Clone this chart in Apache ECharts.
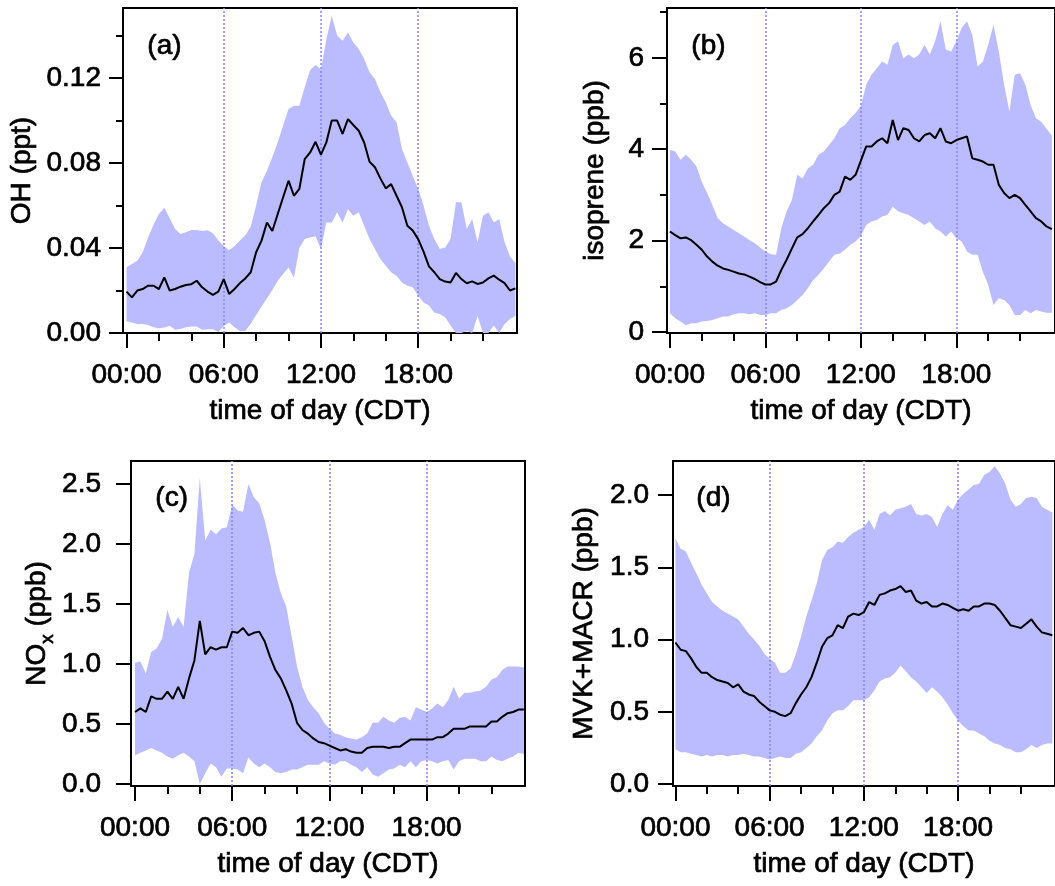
<!DOCTYPE html>
<html><head><meta charset="utf-8">
<script src="https://cdn.jsdelivr.net/npm/echarts@6/dist/echarts.min.js"></script>
<style>html,body{margin:0;padding:0;background:#fff}#c{width:1055px;height:886px}</style>
</head><body><div id="c"></div>
<script>
// ---- time of day (minutes after midnight) ----
const timeMin = [0,20,40,60,80,100,120,140,160,180,200,220,240,260,280,300,320,340,360,380,400,420,440,460,480,500,520,540,560,580,600,620,640,660,680,700,720,740,760,780,800,820,840,860,880,900,920,940,960,980,1000,1020,1040,1060,1080,1100,1120,1140,1160,1180,1200,1220,1240,1260,1280,1300,1320,1340,1360,1380,1400,1420,1440];

// ---- (a) OH (ppt) ----
const ohMean = [0.0195,0.0168,0.0200,0.0207,0.0223,0.0223,0.0207,0.0262,0.0200,0.0207,0.0218,0.0226,0.0230,0.0246,0.0215,0.0195,0.0180,0.0195,0.0254,0.0184,0.0207,0.0235,0.0257,0.0286,0.0380,0.0435,0.0520,0.0480,0.0560,0.0639,0.0717,0.0646,0.0678,0.0819,0.0850,0.0900,0.0840,0.0897,0.1000,0.1000,0.0937,0.1007,0.0979,0.0952,0.0897,0.0806,0.0780,0.0728,0.0681,0.0701,0.0646,0.0592,0.0505,0.0482,0.0442,0.0383,0.0314,0.0286,0.0254,0.0242,0.0238,0.0283,0.0254,0.0234,0.0243,0.0231,0.0238,0.0257,0.0270,0.0251,0.0235,0.0200,0.0210];
const ohUpper = [0.031,0.0325,0.034,0.038,0.045,0.051,0.056,0.059,0.054,0.049,0.0466,0.0474,0.0485,0.0485,0.048,0.0484,0.047,0.0435,0.041,0.039,0.041,0.0435,0.046,0.05,0.060,0.071,0.0764,0.0827,0.0898,0.0977,0.1055,0.107,0.107,0.1157,0.1238,0.1262,0.124,0.138,0.1494,0.14,0.1376,0.1415,0.1368,0.1337,0.129,0.1227,0.1196,0.1133,0.1086,0.1023,0.0992,0.0866,0.0803,0.074,0.0678,0.060,0.0505,0.0442,0.0395,0.0403,0.0442,0.0615,0.0615,0.049,0.0537,0.0427,0.0552,0.0568,0.052,0.0537,0.0427,0.036,0.033];
const ohLower = [0.0055,0.005,0.0042,0.0042,0.0038,0.0027,0.0022,0.0026,0.0034,0.0015,0.0019,0.0027,0.0031,0.0031,0.0015,0.0018,0.0018,0.0005,0.0033,0.005,0.0027,0.001,0.001,0.0043,0.0085,0.0125,0.0164,0.0203,0.0246,0.0278,0.0308,0.026,0.040,0.0442,0.045,0.0455,0.0395,0.052,0.052,0.0568,0.052,0.0584,0.0552,0.0568,0.0505,0.0442,0.0395,0.0348,0.0317,0.0286,0.027,0.0238,0.0223,0.0215,0.0176,0.0144,0.0129,0.0097,0.0089,0.0074,0.0035,0,0,0.001,0,0.008,0,0,0.0035,0,0.0042,0.0066,0.008];

// ---- (b) isoprene (ppb) ----
const isoMean = [2.20,2.12,2.05,2.07,2.01,1.91,1.80,1.65,1.54,1.45,1.39,1.36,1.32,1.28,1.26,1.21,1.16,1.09,1.04,1.04,1.10,1.36,1.58,1.83,2.07,2.14,2.27,2.42,2.56,2.71,2.82,3.00,3.07,3.40,3.33,3.44,3.75,4.06,4.06,4.17,4.24,4.13,4.64,4.20,4.46,4.42,4.24,4.17,4.31,4.35,4.24,4.46,4.17,4.13,4.20,4.24,4.28,3.80,3.77,3.73,3.66,3.66,3.22,3.04,2.93,3.00,2.93,2.78,2.64,2.49,2.42,2.31,2.25];
const isoUpper = [3.99,3.95,3.77,3.88,3.77,3.62,3.29,3.04,2.78,2.49,2.38,2.31,2.23,2.16,2.09,2.01,1.94,1.85,1.76,1.70,1.69,2.27,2.64,2.89,3.44,3.36,3.58,3.66,3.88,3.95,4.09,4.24,4.46,4.53,4.68,4.79,4.95,5.41,5.63,5.77,5.92,5.85,6.28,6.36,5.99,6.07,5.99,6.07,6.28,6.07,6.36,6.80,6.18,6.14,6.36,6.65,6.80,6.50,5.81,5.92,6.28,6.72,6.14,5.41,4.82,5.63,5.66,5.41,4.97,4.68,4.60,4.45,4.30];
const isoLower = [0.41,0.30,0.23,0.15,0.19,0.19,0.23,0.24,0.26,0.30,0.34,0.34,0.39,0.41,0.41,0.39,0.41,0.37,0.37,0.41,0.41,0.48,0.52,0.59,0.70,0.81,0.96,1.14,1.25,1.39,1.54,1.69,1.72,1.80,1.91,1.98,2.10,2.34,2.42,2.45,2.53,2.56,2.74,2.64,2.60,2.56,2.49,2.42,2.34,2.42,2.27,2.20,2.09,2.20,2.05,1.98,1.76,1.69,1.69,1.32,1.03,0.59,0.74,0.70,0.59,0.37,0.37,0.48,0.41,0.48,0.45,0.42,0.42];

// ---- (c) NOx (ppb) ----
const noxMean = [0.60,0.63,0.60,0.73,0.71,0.71,0.77,0.71,0.81,0.71,0.88,1.03,1.36,1.08,1.14,1.12,1.14,1.14,1.27,1.26,1.30,1.24,1.26,1.27,1.19,1.06,0.95,0.88,0.78,0.67,0.51,0.45,0.42,0.38,0.35,0.34,0.32,0.30,0.28,0.29,0.27,0.26,0.26,0.30,0.31,0.31,0.31,0.30,0.31,0.31,0.34,0.37,0.37,0.37,0.37,0.37,0.39,0.39,0.42,0.46,0.46,0.46,0.48,0.48,0.48,0.48,0.52,0.52,0.56,0.59,0.60,0.62,0.62];
const noxUpper = [1.01,1.02,0.92,1.10,1.13,1.21,1.45,1.31,1.39,1.31,1.76,1.92,2.55,2.03,2.12,2.08,2.13,2.14,2.33,2.28,2.27,2.50,2.39,2.34,2.20,2.01,1.76,1.59,1.48,1.23,0.98,0.81,0.70,0.64,0.59,0.51,0.46,0.42,0.41,0.39,0.38,0.37,0.39,0.42,0.51,0.51,0.56,0.53,0.51,0.55,0.56,0.53,0.64,0.62,0.60,0.63,0.67,0.64,0.70,0.81,0.71,0.76,0.76,0.77,0.78,0.81,0.87,0.89,0.95,0.98,0.98,0.98,0.97];
const noxLower = [0.24,0.26,0.28,0.30,0.28,0.26,0.23,0.21,0.24,0.26,0.23,0.19,0.00,0.09,0.17,0.14,0.06,0.13,0.13,0.12,0.09,0.22,0.17,0.14,0.17,0.14,0.10,0.09,0.10,0.12,0.12,0.14,0.16,0.16,0.16,0.19,0.17,0.16,0.19,0.19,0.16,0.14,0.10,0.14,0.08,0.06,0.09,0.12,0.13,0.16,0.14,0.19,0.14,0.19,0.20,0.19,0.17,0.19,0.20,0.12,0.19,0.21,0.21,0.21,0.19,0.19,0.23,0.20,0.19,0.21,0.23,0.26,0.25];

// ---- (d) MVK+MACR (ppb) ----
const mvkMean = [0.98,0.93,0.92,0.87,0.81,0.77,0.77,0.74,0.72,0.71,0.70,0.67,0.69,0.64,0.62,0.61,0.57,0.54,0.51,0.50,0.48,0.47,0.49,0.56,0.62,0.67,0.74,0.84,0.95,1.01,1.03,1.10,1.08,1.16,1.18,1.17,1.19,1.26,1.24,1.31,1.32,1.34,1.35,1.37,1.33,1.34,1.27,1.25,1.26,1.23,1.23,1.25,1.24,1.22,1.20,1.21,1.20,1.23,1.23,1.25,1.25,1.24,1.20,1.15,1.10,1.09,1.08,1.11,1.14,1.09,1.05,1.04,1.03];
const mvkUpper = [1.70,1.63,1.61,1.53,1.46,1.38,1.32,1.26,1.23,1.20,1.18,1.16,1.14,1.09,1.04,1.00,0.96,0.90,0.87,0.84,0.77,0.77,0.80,0.90,1.02,1.16,1.27,1.39,1.55,1.62,1.64,1.68,1.67,1.71,1.74,1.76,1.78,1.83,1.76,1.87,1.89,1.86,1.90,1.91,1.92,1.94,1.87,1.86,1.87,1.85,1.78,1.87,1.93,1.90,1.97,2.01,2.04,2.07,2.08,2.14,2.16,2.20,2.15,2.08,1.97,1.92,1.94,1.98,1.99,1.98,1.92,1.90,1.88];
const mvkLower = [0.24,0.22,0.22,0.21,0.20,0.19,0.20,0.19,0.20,0.20,0.19,0.20,0.20,0.21,0.20,0.19,0.19,0.18,0.17,0.18,0.19,0.18,0.18,0.21,0.22,0.25,0.28,0.33,0.37,0.44,0.49,0.51,0.51,0.54,0.58,0.58,0.58,0.60,0.65,0.71,0.73,0.74,0.77,0.82,0.78,0.74,0.71,0.67,0.63,0.67,0.64,0.60,0.55,0.49,0.44,0.40,0.37,0.37,0.35,0.33,0.30,0.28,0.27,0.25,0.24,0.22,0.22,0.24,0.27,0.25,0.27,0.28,0.28];

// ---- ticks / labels ----
const xMajorTicks = [0, 6, 12, 18];
const xMajorLabels = ['00:00', '06:00', '12:00', '18:00'];
const xMinorTicks = [2, 4, 8, 10, 14, 16, 20, 22];
const guideHours = [6, 12, 18];
const ohTicks = [0, 0.04, 0.08, 0.12];
const ohTickLabels = ['0.00', '0.04', '0.08', '0.12'];
const ohMinorTicks = [0.02, 0.06, 0.10, 0.14];
const isoTicks = [0, 2, 4, 6];
const isoTickLabels = ['0', '2', '4', '6'];
const isoMinorTicks = [1, 3, 5, 7];
const noxTicks = [0, 0.5, 1.0, 1.5, 2.0, 2.5];
const noxTickLabels = ['0.0', '0.5', '1.0', '1.5', '2.0', '2.5'];
const mvkTicks = [0, 0.5, 1.0, 1.5, 2.0];
const mvkTickLabels = ['0.0', '0.5', '1.0', '1.5', '2.0'];
const xTitle = 'time of day (CDT)';

// ---- layout & style ----
const FONT = '"Liberation Sans", Arial, Helvetica, sans-serif';
const FS = 28;
const BAND = '#bbbbff';
const GUIDE = '#8585ff';
const HEAVY = {textBorderColor: '#000', textBorderWidth: 0.7};

const panels = [
  {tag: '(a)', title: 'OH (ppt)', mean: ohMean, lo: ohLower, hi: ohUpper,
   yt: ohTicks, yl: ohTickLabels, ym: ohMinorTicks,
   left: 123, top: 8, width: 394, height: 325, xMin: -0.216, xMax: 24.1, yMin: 0, yMax: 0.153,
   labMargin: 22, nameGap: 87, yTickLen: 14, tagX: 147, tagY: 32},
  {tag: '(b)', title: 'isoprene (ppb)', mean: isoMean, lo: isoLower, hi: isoUpper,
   yt: isoTicks, yl: isoTickLabels, ym: isoMinorTicks,
   left: 667, top: 8, width: 395, height: 325, xMin: -0.185, xMax: 24.198, yMin: -0.022, yMax: 7.09,
   labMargin: 23, nameGap: 58, yTickLen: 15, tagX: 691, tagY: 32},
  {tag: '(c)', title: '{n|NO}{s|x}{n| (ppb)}', rich: true, mean: noxMean, lo: noxLower, hi: noxUpper,
   yt: noxTicks, yl: noxTickLabels, ym: [],
   left: 131, top: 461, width: 394, height: 325, xMin: -0.247, xMax: 24.07, yMin: -0.0167, yMax: 2.692,
   labMargin: 30, nameGap: 60, yTickLen: 15, tagX: 155, tagY: 484},
  {tag: '(d)', title: 'MVK+MACR (ppb)', mean: mvkMean, lo: mvkLower, hi: mvkUpper,
   yt: mvkTicks, yl: mvkTickLabels, ym: [],
   left: 673, top: 461, width: 394, height: 325, xMin: -0.154, xMax: 24.17, yMin: -0.0139, yMax: 2.237,
   labMargin: 24, nameGap: 75, yTickLen: 15, tagX: 696, tagY: 484}
];

function lookup(ticks, labels) {
  return function (v) {
    for (let i = 0; i < ticks.length; i++) if (Math.abs(ticks[i] - v) < 1e-9) return labels[i];
    return '';
  };
}

function bandRenderItem(params, api) {
  if (params.dataIndexInside !== 0) return null;
  const n = params.dataInsideLength;
  const top = [], bot = [];
  for (let j = 0; j < n; j++) {
    const x = api.value(0, j);
    top.push(api.coord([x, api.value(2, j)]));
    bot.push(api.coord([x, api.value(1, j)]));
  }
  return {type: 'polygon', shape: {points: top.concat(bot.reverse())},
    style: {fill: BAND, stroke: null}};
}

const txt = {fontFamily: FONT, fontSize: FS, color: '#000', ...HEAVY};
const grid = [], xAxis = [], yAxis = [], series = [], graphic = [];

panels.forEach((p, gi) => {
  grid.push({left: p.left, top: p.top, width: p.width, height: p.height, show: true,
    borderColor: '#000', borderWidth: 2, backgroundColor: 'transparent', containLabel: false});
  const xi = xAxis.length, yi = yAxis.length;
  xAxis.push({gridIndex: gi, type: 'value', position: 'bottom', min: p.xMin, max: p.xMax,
    axisLine: {show: true, onZero: false, lineStyle: {color: '#000', width: 2}},
    axisTick: {show: true, customValues: xMajorTicks, length: 15, lineStyle: {color: '#000', width: 2}},
    axisLabel: {show: true, customValues: xMajorTicks, formatter: lookup(xMajorTicks, xMajorLabels),
      margin: 28, ...txt},
    splitLine: {show: false},
    name: xTitle, nameLocation: 'middle', nameGap: 64, nameTextStyle: {...txt}});
  xAxis.push({gridIndex: gi, type: 'value', position: 'bottom', min: p.xMin, max: p.xMax,
    axisLine: {show: false, onZero: false},
    axisTick: {show: true, customValues: xMinorTicks, length: 8, lineStyle: {color: '#000', width: 2}},
    axisLabel: {show: false}, splitLine: {show: false}});
  const nameStyle = p.rich ? {
      ...txt,
      rich: {
        n: {fontFamily: FONT, fontSize: FS, color: '#000', lineHeight: 40, verticalAlign: 'middle', ...HEAVY},
        s: {fontFamily: FONT, fontSize: 19, color: '#000', lineHeight: 19, verticalAlign: 'bottom', ...HEAVY}
      }
    } : {...txt};
  yAxis.push({gridIndex: gi, type: 'value', position: 'left', min: p.yMin, max: p.yMax,
    axisLine: {show: true, onZero: false, lineStyle: {color: '#000', width: 2}},
    axisTick: {show: true, customValues: p.yt, length: p.yTickLen, lineStyle: {color: '#000', width: 2}},
    axisLabel: {show: true, customValues: p.yt, formatter: lookup(p.yt, p.yl), margin: p.labMargin, ...txt},
    splitLine: {show: false},
    name: p.title, nameLocation: 'middle', nameRotate: 90, nameGap: p.nameGap, nameTextStyle: nameStyle});
  yAxis.push({gridIndex: gi, type: 'value', position: 'left', min: p.yMin, max: p.yMax,
    axisLine: {show: false, onZero: false},
    axisTick: {show: p.ym.length > 0, customValues: p.ym.length ? p.ym : [p.yMin], length: 7,
      lineStyle: {color: '#000', width: 2}},
    axisLabel: {show: false}, splitLine: {show: false}});

  const hours = timeMin.map(m => m / 60);
  series.push({type: 'custom', xAxisIndex: xi, yAxisIndex: yi, clip: true, silent: true, z: 2,
    data: hours.map((h, i) => [h, p.lo[i], p.hi[i]]),
    encode: {x: 0, y: [1, 2]},
    renderItem: bandRenderItem,
    markLine: {silent: true, symbol: 'none', label: {show: false}, animation: false,
      lineStyle: {color: GUIDE, type: [2, 2], width: 1.5},
      data: guideHours.map(h => ({xAxis: h}))}});
  series.push({type: 'line', xAxisIndex: xi, yAxisIndex: yi,
    data: hours.map((h, i) => [h, p.mean[i]]), symbol: 'none', silent: true,
    lineStyle: {color: '#000', width: 2}, z: 10});

  graphic.push({type: 'text', left: p.tagX, top: p.tagY, z: 100,
    style: {text: p.tag, fontFamily: FONT, fontSize: FS, fill: '#000', stroke: '#000', lineWidth: 0.7}});
});

const chart = echarts.init(document.getElementById('c'), null, {renderer: 'canvas'});
chart.setOption({animation: false, backgroundColor: '#fff', grid, xAxis, yAxis, series, graphic});
</script>
</body></html>
